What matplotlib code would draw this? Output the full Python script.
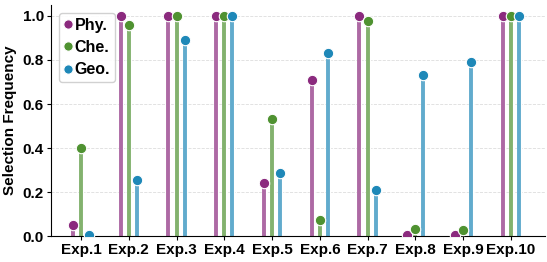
import matplotlib.pyplot as plt
import matplotlib.patheffects as pe
import numpy as np

plt.rcParams["font.family"] = ["Liberation Sans", "DejaVu Sans"]
plt.rcParams["font.weight"] = "bold"

experiments = ["Exp.1", "Exp.2", "Exp.3", "Exp.4", "Exp.5",
               "Exp.6", "Exp.7", "Exp.8", "Exp.9", "Exp.10"]
phy = [0.05, 1.0, 1.0, 1.0, 0.24, 0.71, 1.0, 0.006, 0.003, 1.0]
che = [0.40, 0.96, 1.0, 1.0, 0.53, 0.075, 0.975, 0.033, 0.026, 1.0]
geo = [0.003, 0.255, 0.893, 1.0, 0.286, 0.832, 0.21, 0.733, 0.79, 1.0]

series = [("Phy.", phy, "#8b2a7e"), ("Che.", che, "#4f9231"), ("Geo.", geo, "#1e88b8")]
offsets = [-0.17, 0.0, 0.17]

fig = plt.figure(figsize=(5.47, 2.62), dpi=100)
ax = fig.add_axes([0.093, 0.099, 0.903, 0.882])

x = np.arange(len(experiments))
for (name, vals, color), off in zip(series, offsets):
    xs = x + off
    ax.vlines(xs, 0, vals, color=color, alpha=0.7, lw=2.8,
              path_effects=[pe.Stroke(linewidth=3.8, foreground="white"), pe.Normal()],
              zorder=2)
    ax.plot(xs, vals, "o", color=color, ms=7.5, mec="white", mew=0.8,
            label=name, zorder=3)

ax.set_xlim(-0.63, 9.71)
ax.set_ylim(0, 1.05)
ax.set_xticks(x)
ax.set_xticklabels(experiments, fontsize=11, fontweight="bold")
ax.set_yticks([0, 0.2, 0.4, 0.6, 0.8, 1.0])
ax.set_yticklabels(["0.0", "0.2", "0.4", "0.6", "0.8", "1.0"], fontsize=11, fontweight="bold")
ax.set_ylabel("Selection Frequency", fontsize=11, fontweight="bold")
ax.tick_params(axis="both", length=3, pad=2)
ax.grid(axis="y", linestyle="--", color="#dddddd", lw=0.6, zorder=0)
ax.set_axisbelow(True)
ax.spines["top"].set_visible(False)
ax.spines["right"].set_visible(False)

leg = ax.legend(loc="upper left", prop={"size": 11.5, "weight": "bold"},
                handletextpad=0.1, borderpad=0.3, labelspacing=0.45,
                handlelength=0.6, borderaxespad=0.5, framealpha=0.9,
                markerscale=0.9)
leg.get_frame().set_edgecolor("#cccccc")

fig.savefig("out.png", dpi=100)
